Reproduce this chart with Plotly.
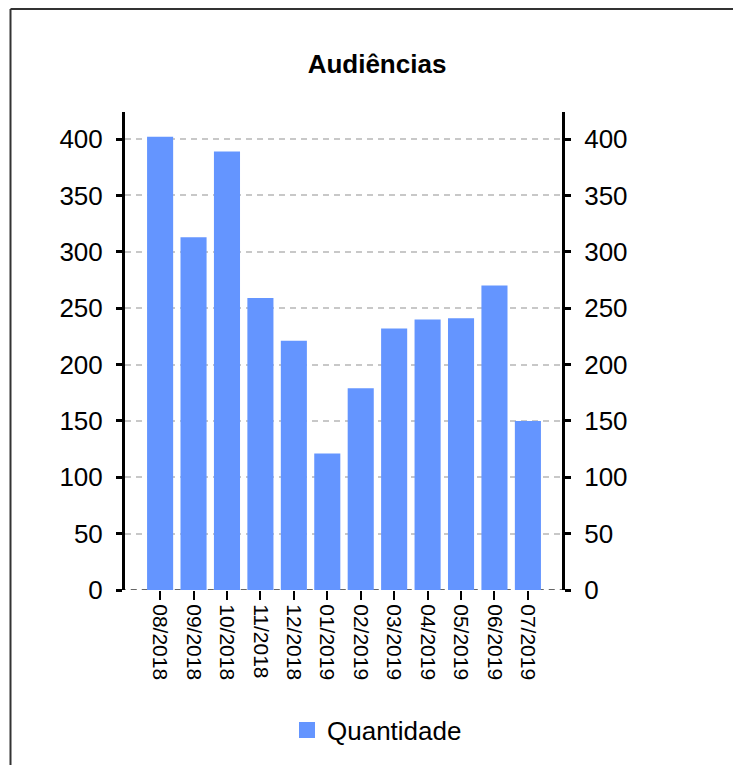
import plotly.graph_objects as go

categories = ["08/2018", "09/2018", "10/2018", "11/2018", "12/2018", "01/2019",
              "02/2019", "03/2019", "04/2019", "05/2019", "06/2019", "07/2019"]
quantidade = [402, 313, 389, 259, 221, 121, 179, 232, 240, 241, 270, 150]
y_ticks = [0, 50, 100, 150, 200, 250, 300, 350, 400]

BAR_COLOR = "#6495ff"
FONT = "Liberation Sans, Arial, Helvetica, sans-serif"
Y_RANGE = [0, 424]

fig = go.Figure()
fig.add_trace(go.Bar(x=categories, y=quantidade, name="Quantidade",
                     marker=dict(color=BAR_COLOR, line=dict(width=0)),
                     showlegend=False, legendgroup="q"))
# legend entry with a larger square swatch (no data drawn)
fig.add_trace(go.Scatter(x=[None], y=[None], mode="markers", name="Quantidade",
                         legendgroup="q", showlegend=True,
                         marker=dict(symbol="square", size=22, color=BAR_COLOR)))
# invisible trace to carry the right-hand axis
fig.add_trace(go.Bar(x=categories, y=[None] * len(categories), yaxis="y2",
                     showlegend=False, hoverinfo="skip"))

OFF = 8  # page body margin
W, H = 741 - OFF, 765 - OFF
ml, mt = 125 - OFF, 112 - OFF
mr = W - (562 - OFF)
mb = H - (590 - OFF)
pw, ph = W - ml - mr, H - mt - mb

def px_x(p):
    return (p - OFF - ml) / pw

def px_y(p):
    return (H - mb - (p - OFF)) / ph

fig.update_layout(
    width=W, height=H, autosize=False,
    margin=dict(l=ml, r=mr, t=mt, b=mb, pad=0),
    paper_bgcolor="white", plot_bgcolor="white",
    font=dict(family=FONT, color="black", size=24),
    title=dict(text="<b>Audiências</b>", x=px_x(377), xref="paper", xanchor="center",
               y=1 - (64 - OFF) / H, yref="container", yanchor="middle",
               font=dict(family=FONT, size=26, color="black")),
    bargap=0.22,
    barmode="overlay",
    showlegend=True,
    legend=dict(orientation="h", x=px_x(377), xanchor="center", y=px_y(730), yanchor="middle",
                itemsizing="trace",
                font=dict(family=FONT, size=26, color="black"), bgcolor="rgba(0,0,0,0)"),
    xaxis=dict(type="category", range=[-1.05, 12.02], showgrid=False, zeroline=False,
               showline=False, ticks="outside", ticklen=9, tickwidth=2, tickcolor="black",
               tickangle=90, tickfont=dict(family=FONT, size=21, color="black"),
               categoryorder="array", categoryarray=categories),
    yaxis=dict(range=Y_RANGE, tickvals=y_ticks, showgrid=True, gridcolor="#c8c8c8",
               gridwidth=1.5, griddash="6px,5px", zeroline=False, showline=True,
               linecolor="black", linewidth=3, ticks="outside", ticklen=6, tickwidth=3,
               tickcolor="black", tickfont=dict(family=FONT, size=26, color="black"),
               ticklabelstandoff=8),
    yaxis2=dict(range=Y_RANGE, tickvals=y_ticks, overlaying="y", side="right",
                showgrid=False, zeroline=False, showline=True, linecolor="black",
                linewidth=3, ticks="outside", ticklen=6, tickwidth=3, tickcolor="black",
                tickfont=dict(family=FONT, size=26, color="black"), ticklabelstandoff=8),
    shapes=[
        # baseline at zero
        dict(type="line", xref="paper", yref="y", x0=-0.012, x1=1.012, y0=0, y1=0,
             line=dict(color="#666666", width=2, dash="6px,5px"), layer="below"),
        # page frame (left and top edges)
        dict(type="line", xref="paper", yref="paper", x0=px_x(10.5), x1=px_x(10.5),
             y0=px_y(9), y1=px_y(800), line=dict(color="#333333", width=2)),
        dict(type="line", xref="paper", yref="paper", x0=px_x(10.5), x1=px_x(800),
             y0=px_y(9), y1=px_y(9), line=dict(color="#333333", width=2)),
    ],
)

fig.write_html("out.html")
